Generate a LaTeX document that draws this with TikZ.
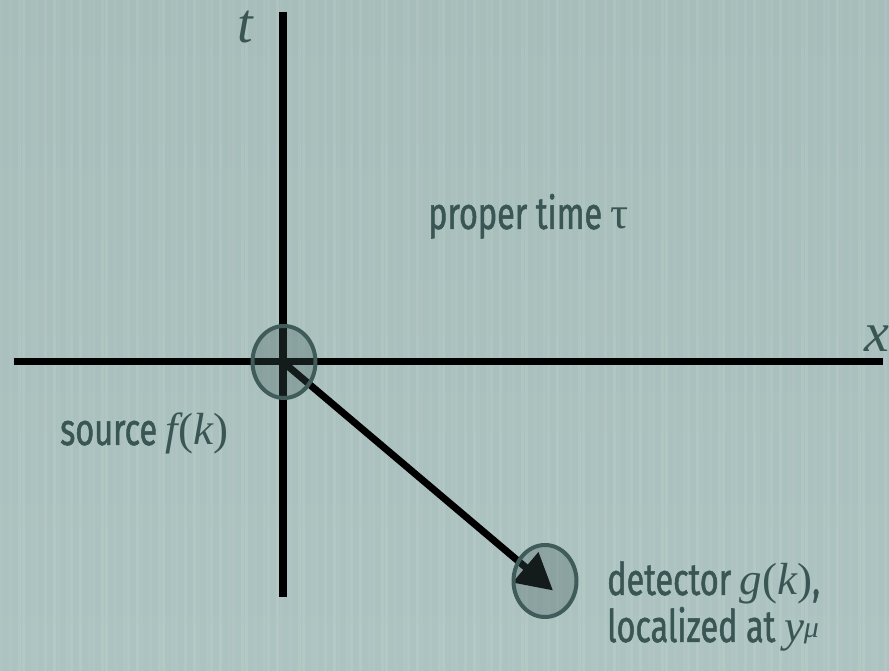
\documentclass[tikz,border=0pt]{standalone}
\usepackage{fontspec}
\setmainfont{Fira Sans}[FakeStretch=0.72, FakeBold=1.1]
\newfontfamily\myserif{Liberation Serif}
\usetikzlibrary{arrows.meta,shapes.geometric}
\definecolor{bgA}{HTML}{A6BDBA}
\definecolor{bgB}{HTML}{ADC3C1}
\definecolor{ink}{HTML}{3A5654}
\definecolor{ring}{HTML}{3F5B5A}
\definecolor{axis}{HTML}{000000}
\newcommand{\mvar}[1]{{\myserif\itshape #1}}
\newcommand{\mup}[1]{{\myserif #1}}
\tikzset{
  axisline/.style={line width=7.5pt, draw=axis},
  blob/.style={ellipse, draw=ring, line width=4pt, fill=ring, fill opacity=0.3, draw opacity=1, minimum width=63pt, minimum height=72pt, inner sep=0pt},
  lbl/.style={text=ink, font=\fontsize{45}{47}\selectfont, inner sep=0pt, anchor=base west},
  axlbl/.style={text=ink, font=\fontsize{56}{58}\selectfont, inner sep=0pt, anchor=base west, text height=0.45em}
}
\begin{document}
\begin{tikzpicture}[x=1pt,y=1pt]
\useasboundingbox (0,0) rectangle (889,671);
\shade[top color=bgA, bottom color=bgB] (0,0) rectangle (889,671);
\foreach \i in {0,...,126}{
  \pgfmathsetmacro{\xx}{\i*7+mod(\i*37,5)}
  \pgfmathsetmacro{\op}{0.04+0.05*mod(\i*13,4)/3}
  \fill[white, opacity=\op] (\xx,0) rectangle ++(3,671);
}
% axes
\coordinate (tTop) at (283,659);
\coordinate (tBot) at (283,74);
\coordinate (xL) at (13.5,309.5);
\coordinate (xR) at (883,309.5);
\draw[axisline] (tBot) -- (tTop);
\draw[axisline] (xL) -- (xR);
% arrow
\coordinate (o) at (283,309);
\coordinate (tip) at (553,80.5);
\draw[line width=7pt, -{Triangle[length=36pt,width=38pt]}] (o) -- (tip);
% blobs
\node[blob] (src) at (284,309) {};
\node[blob] (det) at (545,90) {};
% labels
\node[axlbl] (tl) at (237,628) {\mvar{t}};
\node[axlbl] (xl) at (864,319) {\mvar{x}};
\node[lbl] (pt) at (428,442) {proper time \mup{τ}};
\node[lbl] (srcl) at (60,226) {source \mvar{f}\mup{(}\mvar{k}\mup{)}};
\node[lbl, text depth=0pt] (detl) at (607,76) {detector \mvar{g}\mup{(}\mvar{k}\mup{)},};
\node[lbl, text height=0.6em] (locl) at (607,29) {localized at \mvar{y}\raisebox{0.1em}{\fontsize{30}{32}\selectfont\mvar{μ}}};
\end{tikzpicture}
\end{document}
